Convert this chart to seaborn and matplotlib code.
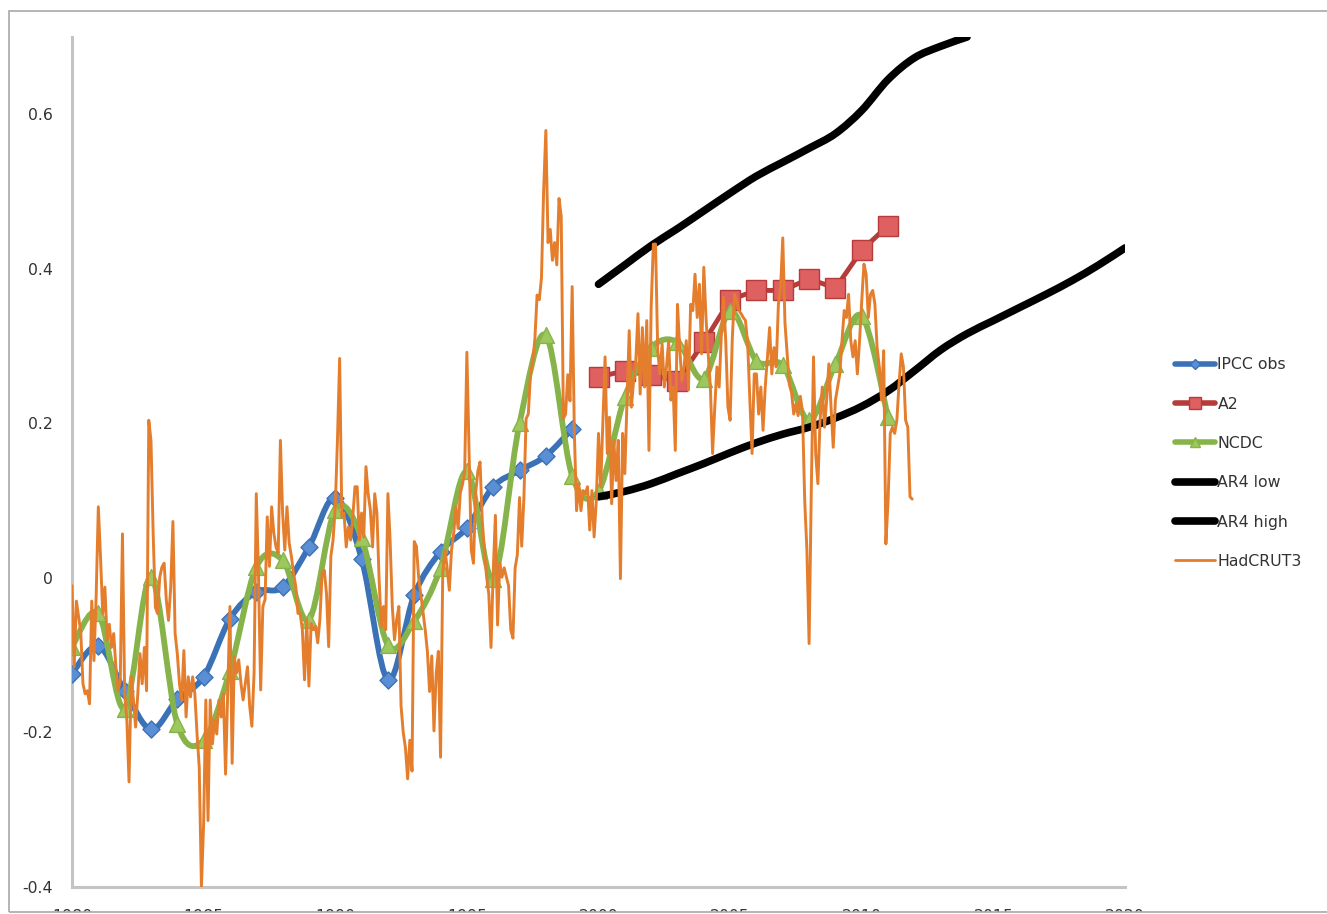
import numpy as np
import pandas as pd
import matplotlib
matplotlib.use("Agg")
import matplotlib.pyplot as plt
from matplotlib.path import Path
from matplotlib.patches import PathPatch, Rectangle
from matplotlib.lines import Line2D
import seaborn as sns

# ---- data ----
obs_years = list(range(1980, 2000))
ipcc_obs = [-0.124, -0.088, -0.146, -0.196, -0.157, -0.128, -0.053, -0.018, -0.012, 0.040,
            0.104, 0.025, -0.132, -0.022, 0.034, 0.065, 0.118, 0.139, 0.158, 0.193]

a2_years = list(range(2000, 2012))
a2 = [0.260, 0.268, 0.262, 0.255, 0.305, 0.360, 0.372, 0.372, 0.387, 0.375, 0.424, 0.456]

ncdc_years = list(range(1980, 2012))
ncdc = [-0.089, -0.046, -0.169, 0.001, -0.189, -0.210, -0.120, 0.014, 0.023, -0.054,
        0.088, 0.052, -0.087, -0.056, 0.013, 0.138, -0.001, 0.200, 0.314, 0.132,
        0.112, 0.234, 0.298, 0.305, 0.258, 0.345, 0.281, 0.275, 0.204, 0.277,
        0.339, 0.208]

ar4_low_years = list(range(2000, 2021))
ar4_low = [0.105, 0.112, 0.122, 0.135, 0.148, 0.162, 0.175, 0.186, 0.195, 0.207,
           0.222, 0.242, 0.268, 0.295, 0.316, 0.333, 0.350, 0.367, 0.385, 0.405, 0.427]

ar4_high_years = list(range(2000, 2015))
ar4_high = [0.380, 0.405, 0.430, 0.452, 0.475, 0.498, 0.520, 0.538, 0.556, 0.575,
            0.605, 0.645, 0.673, 0.688, 0.700]

# HadCRUT3 monthly, Jan..Dec for each year 1980-2011
hadcrut3 = {
    1980: [-0.010, -0.115, -0.030, -0.050, -0.070, -0.137, -0.150, -0.146, -0.163, -0.030, -0.107, -0.025],
    1981: [0.092, 0.027, -0.046, -0.012, -0.080, -0.060, -0.090, -0.072, -0.115, -0.146, -0.133, 0.057],
    1982: [-0.150, -0.184, -0.264, -0.128, -0.158, -0.193, -0.150, -0.098, -0.137, -0.090, -0.146, 0.204],
    1983: [0.178, 0.057, -0.038, -0.046, 0.001, 0.014, 0.019, -0.029, -0.055, -0.012, 0.073, -0.072],
    1984: [-0.098, -0.137, -0.158, -0.094, -0.180, -0.128, -0.154, -0.128, -0.150, -0.202, -0.245, -0.400],
    1985: [-0.318, -0.158, -0.314, -0.158, -0.215, -0.184, -0.202, -0.158, -0.180, -0.150, -0.254, -0.146],
    1986: [-0.037, -0.240, -0.102, -0.123, -0.106, -0.136, -0.158, -0.136, -0.115, -0.166, -0.192, -0.123],
    1987: [0.109, 0.006, -0.145, -0.037, -0.028, 0.079, 0.015, 0.092, 0.058, 0.040, 0.032, 0.178],
    1988: [0.084, 0.036, 0.092, 0.045, 0.028, 0.006, -0.011, -0.046, -0.046, -0.067, -0.132, -0.054],
    1989: [-0.140, -0.059, -0.067, -0.063, -0.084, -0.054, 0.006, 0.010, -0.020, -0.089, 0.028, 0.049],
    1990: [0.092, 0.178, 0.284, 0.079, 0.084, 0.040, 0.066, 0.049, 0.079, 0.118, 0.118, 0.049],
    1991: [0.084, 0.053, 0.144, 0.109, 0.088, 0.040, 0.109, 0.084, -0.003, -0.063, -0.037, -0.067],
    1992: [0.109, 0.049, -0.037, -0.080, -0.054, -0.037, -0.166, -0.200, -0.220, -0.260, -0.210, -0.250],
    1993: [0.047, 0.041, 0.001, -0.021, -0.044, -0.067, -0.095, -0.147, -0.101, -0.198, -0.124, -0.095],
    1994: [-0.232, 0.007, 0.036, 0.013, -0.016, 0.036, 0.058, 0.092, 0.064, 0.110, 0.121, 0.138],
    1995: [0.292, 0.161, 0.036, 0.019, 0.110, 0.138, 0.150, 0.075, 0.036, 0.001, -0.021, -0.090],
    1996: [0.007, 0.081, -0.061, 0.019, 0.001, 0.013, 0.001, -0.010, -0.067, -0.078, 0.013, 0.030],
    1997: [0.104, 0.041, 0.104, 0.206, 0.212, 0.263, 0.280, 0.309, 0.366, 0.360, 0.388, 0.502],
    1998: [0.579, 0.434, 0.451, 0.411, 0.434, 0.405, 0.491, 0.468, 0.206, 0.212, 0.263, 0.229],
    1999: [0.377, 0.187, 0.087, 0.122, 0.087, 0.113, 0.109, 0.118, 0.062, 0.113, 0.053, 0.100],
    2000: [0.187, 0.118, 0.204, 0.286, 0.161, 0.208, 0.096, 0.178, 0.126, 0.178, -0.001, 0.187],
    2001: [0.135, 0.230, 0.320, 0.221, 0.255, 0.281, 0.342, 0.238, 0.324, 0.247, 0.333, 0.165],
    2002: [0.350, 0.432, 0.432, 0.294, 0.264, 0.303, 0.247, 0.273, 0.307, 0.230, 0.247, 0.165],
    2003: [0.354, 0.298, 0.255, 0.273, 0.307, 0.243, 0.354, 0.346, 0.393, 0.337, 0.380, 0.290],
    2004: [0.402, 0.337, 0.290, 0.247, 0.161, 0.221, 0.273, 0.247, 0.316, 0.363, 0.307, 0.221],
    2005: [0.204, 0.311, 0.367, 0.359, 0.346, 0.342, 0.337, 0.333, 0.303, 0.230, 0.161, 0.264],
    2006: [0.264, 0.212, 0.247, 0.191, 0.247, 0.286, 0.324, 0.264, 0.298, 0.273, 0.354, 0.376],
    2007: [0.440, 0.330, 0.290, 0.250, 0.240, 0.212, 0.225, 0.210, 0.235, 0.215, 0.100, 0.036],
    2008: [-0.085, 0.113, 0.286, 0.161, 0.122, 0.204, 0.247, 0.195, 0.230, 0.277, 0.221, 0.169],
    2009: [0.230, 0.247, 0.264, 0.307, 0.346, 0.337, 0.367, 0.307, 0.286, 0.307, 0.264, 0.307],
    2010: [0.359, 0.406, 0.393, 0.337, 0.367, 0.372, 0.354, 0.298, 0.273, 0.230, 0.294, 0.044],
    2011: [0.100, 0.187, 0.195, 0.187, 0.204, 0.251, 0.290, 0.273, 0.204, 0.195, 0.105, 0.102],
}

xticks = list(range(1980, 2021, 5))
yticks = [-0.4, -0.2, 0.0, 0.2, 0.4, 0.6]
ytick_labels = ["-0.4", "-0.2", "0", "0.2", "0.4", "0.6"]

labels = ["IPCC obs", "A2", "NCDC", "AR4 low", "AR4 high", "HadCRUT3"]

# ---- colours ----
BLUE, BLUE_FACE = "#3b71b6", "#5a8fd6"
RED, RED_FACE = "#b63c39", "#df6060"
GREEN, GREEN_FACE = "#86b34a", "#9cc85e"
ORANGE = "#e47d2c"
GRAY = "#c4c4c4"


def smooth_line(ax, xs, ys, color, lw, zorder):
    # Excel style "smoothed line": cubic bezier through the points
    p = np.column_stack([xs, ys]).astype(float)
    ext = np.vstack([p[0], p, p[-1]])
    verts = [tuple(p[0])]
    codes = [Path.MOVETO]
    for i in range(len(p) - 1):
        p0, p1, p2, p3 = ext[i], ext[i + 1], ext[i + 2], ext[i + 3]
        c1 = p1 + (p2 - p0) / 6.0
        c2 = p2 - (p3 - p1) / 6.0
        verts += [tuple(c1), tuple(c2), tuple(p2)]
        codes += [Path.CURVE4] * 3
    patch = PathPatch(Path(verts, codes), fill=False, edgecolor=color, lw=lw,
                      capstyle="round", joinstyle="round", zorder=zorder)
    ax.add_patch(patch)


sns.set_style("white")
plt.rcParams["font.family"] = ["DejaVu Sans"]

fig = plt.figure(figsize=(13.27, 9.14), dpi=100)
ax = fig.add_axes([72 / 1327, 27 / 914, 1053 / 1327, 850 / 914])

# IPCC obs
smooth_line(ax, obs_years, ipcc_obs, BLUE, 4.2, 2)
sns.scatterplot(x=obs_years, y=ipcc_obs, marker="D", s=75, color=BLUE_FACE,
                edgecolor=BLUE, linewidth=1, zorder=3, ax=ax)

# A2
sns.lineplot(x=a2_years, y=a2, color=RED, lw=3.5, marker="s", markersize=15,
             markerfacecolor=RED_FACE, markeredgecolor=RED, markeredgewidth=1,
             zorder=4, ax=ax)

# NCDC
smooth_line(ax, ncdc_years, ncdc, GREEN, 4.2, 5)
sns.scatterplot(x=ncdc_years, y=ncdc, marker="^", s=130, color=GREEN_FACE,
                edgecolor=GREEN, linewidth=1, zorder=6, ax=ax)

# AR4 low / high
smooth_line(ax, ar4_low_years, ar4_low, "black", 5.5, 7)
smooth_line(ax, ar4_high_years, ar4_high, "black", 5.5, 7)

# HadCRUT3 monthly
had = pd.DataFrame([(y + m / 12.0, v) for y, vals in hadcrut3.items()
                    for m, v in enumerate(vals)], columns=["t", "anom"])
sns.lineplot(data=had, x="t", y="anom", color=ORANGE, lw=2.1, zorder=8, ax=ax)

ax.set_xlim(1980, 2020)
ax.set_ylim(-0.4, 0.7)
ax.set_xticks(xticks)
ax.set_xticklabels([str(x) for x in xticks])
ax.set_yticks(yticks)
ax.set_yticklabels(ytick_labels)
ax.set_xlabel("")
ax.set_ylabel("")

for s in ["top", "right"]:
    ax.spines[s].set_visible(False)
for s in ["left", "bottom"]:
    ax.spines[s].set_color(GRAY)
    ax.spines[s].set_linewidth(2.2)
ax.tick_params(axis="both", colors=GRAY, length=4.5, width=1.2, labelsize=11.3,
               labelcolor="#333333")
ax.tick_params(axis="y", pad=9.5)
ax.tick_params(axis="x", pad=11.4)
ax.grid(False)

# legend
handles = [
    Line2D([], [], color=BLUE, lw=4, marker="D", ms=5, mfc=BLUE_FACE, mec=BLUE),
    Line2D([], [], color=RED, lw=4, marker="s", ms=9, mfc=RED_FACE, mec=RED),
    Line2D([], [], color=GREEN, lw=4, marker="^", ms=7, mfc=GREEN_FACE, mec=GREEN),
    Line2D([], [], color="black", lw=5.5, solid_capstyle="round"),
    Line2D([], [], color="black", lw=5.5, solid_capstyle="round"),
    Line2D([], [], color=ORANGE, lw=2),
]
fig.legend(handles, labels, loc="center left", bbox_to_anchor=(1175 / 1327, 0.4934),
           frameon=False, fontsize=11.3, handlelength=2.55, handletextpad=0.15,
           labelspacing=1.55, borderpad=0, borderaxespad=0, labelcolor="#333333")

# outer chart frame; the tick labels run under its bottom edge
fig.patches.append(Rectangle((0, 0), 1, 2 / 914, transform=fig.transFigure,
                             facecolor="white", edgecolor="none", zorder=5))
fig.patches.append(Rectangle((9 / 1327, 2 / 914), 1.2, (914 - 13) / 914,
                             transform=fig.transFigure, fill=False,
                             edgecolor="#a8a8a8", lw=1.2, zorder=6))

fig.savefig("out.png", dpi=100)
